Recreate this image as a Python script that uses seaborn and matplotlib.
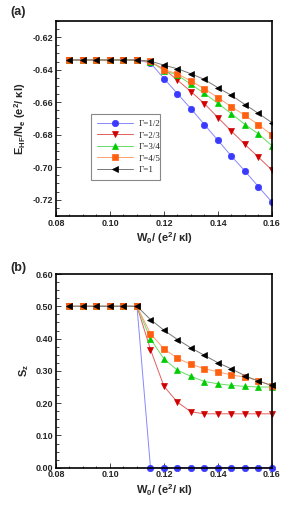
import numpy as np
import pandas as pd
import seaborn as sns
import matplotlib.pyplot as plt
from matplotlib.ticker import MultipleLocator, FormatStrFormatter

sns.set_style("ticks")
plt.rcParams['font.family'] = ['Liberation Sans', 'DejaVu Sans']
plt.rcParams['font.weight'] = 'bold'
plt.rcParams['mathtext.fontset'] = 'custom'
plt.rcParams['mathtext.rm'] = 'Liberation Sans:bold'
plt.rcParams['mathtext.it'] = 'Liberation Sans:bold'
plt.rcParams['mathtext.bf'] = 'Liberation Sans:bold'

# W0 values
w0 = [0.085, 0.09, 0.095, 0.10, 0.105, 0.11, 0.115, 0.12, 0.125, 0.13,
      0.135, 0.14, 0.145, 0.15, 0.155, 0.16]

labels = ['Γ=1/2', 'Γ=2/3', 'Γ=3/4', 'Γ=4/5', 'Γ=1']

# (a) E_HF / N_e
flat_e = [-0.634] * 6
e_half = flat_e + [-0.6359, -0.6454, -0.6548, -0.6640, -0.6738, -0.6835, -0.6932, -0.7024, -0.7120, -0.7215]
e_two3 = flat_e + [-0.6352, -0.6396, -0.6464, -0.6535, -0.6609, -0.6695, -0.6778, -0.6860, -0.6938, -0.7018]
e_three4 = flat_e + [-0.6350, -0.6405, -0.6433, -0.6490, -0.6546, -0.6607, -0.6671, -0.6737, -0.6795, -0.6868]
e_four5 = flat_e + [-0.6349, -0.6400, -0.6425, -0.6470, -0.6517, -0.6572, -0.6628, -0.6681, -0.6738, -0.6802]
e_one = flat_e + [-0.6347, -0.6372, -0.6394, -0.6425, -0.6460, -0.6511, -0.6558, -0.6614, -0.6669, -0.6726]

# (b) S_z
flat_s = [0.5] * 6
s_half = flat_s + [0.0] * 10
s_two3 = flat_s + [0.366, 0.252, 0.203, 0.173, 0.167, 0.167, 0.167, 0.167, 0.167, 0.167]
s_three4 = flat_s + [0.399, 0.337, 0.302, 0.283, 0.267, 0.260, 0.255, 0.252, 0.250, 0.250]
s_four5 = flat_s + [0.415, 0.368, 0.339, 0.320, 0.307, 0.297, 0.287, 0.281, 0.270, 0.253]
s_one = flat_s + [0.459, 0.426, 0.397, 0.371, 0.348, 0.325, 0.306, 0.285, 0.268, 0.255]

markers = ['o', 'v', '^', 's', '<']
msizes = [4.6, 4.0, 4.0, 3.8, 4.3]
mcolors = ['#3a3aff', '#d00000', '#00cc00', '#ff6010', '#000000']
lcolors = ['#8888ff', '#e06060', '#66dd66', '#ffa070', '#777777']

fig = plt.figure(figsize=(2.91, 5.08), dpi=100)
ax1 = fig.add_axes([0.1924, 0.5748, 0.7423, 0.3839])
ax2 = fig.add_axes([0.1924, 0.0793, 0.7423, 0.3813])


def draw(ax, series):
    for i, ys in enumerate(series):
        df = pd.DataFrame({'w0': w0, 'v': ys})
        sns.lineplot(data=df, x='w0', y='v', ax=ax, color=lcolors[i],
                     marker=markers[i], markersize=msizes[i],
                     markerfacecolor=mcolors[i], markeredgecolor=mcolors[i],
                     markeredgewidth=0.5, linewidth=0.7, label=labels[i])


def style(ax):
    ax.set_xlim(0.08, 0.16)
    ax.xaxis.set_major_locator(MultipleLocator(0.02))
    ax.xaxis.set_minor_locator(MultipleLocator(0.005))
    ax.xaxis.set_major_formatter(FormatStrFormatter('%.2f'))
    ax.tick_params(which='both', direction='in', top=False, right=False,
                   labelsize=6.5, width=0.6, pad=2)
    ax.tick_params(which='major', length=3.5)
    ax.tick_params(which='minor', length=1.8)
    for s in ax.spines.values():
        s.set_linewidth(1.2)
        s.set_color('black')
    for t in ax.get_xticklabels() + ax.get_yticklabels():
        t.set_fontweight('bold')
    ax.set_xlabel('W$_0$/ (e$^2$/ κl)', fontsize=8, fontweight='bold', labelpad=2)


draw(ax1, [e_half, e_two3, e_three4, e_four5, e_one])
ax1.set_ylim(-0.73, -0.61)
ax1.yaxis.set_major_locator(MultipleLocator(0.02))
ax1.yaxis.set_minor_locator(MultipleLocator(0.005))
ax1.yaxis.set_major_formatter(FormatStrFormatter('%.2f'))
style(ax1)
ax1.set_ylabel('E$_{HF}$/N$_e$ (e$^2$/ κl)', fontsize=8, fontweight='bold', labelpad=3)
leg = ax1.legend(loc='lower left', bbox_to_anchor=(0.1435, 0.164, 0.357, 0.313),
                 mode='expand', handlelength=4.0, handletextpad=0.6,
                 fancybox=False, framealpha=1, edgecolor='#888888',
                 prop={'family': 'Liberation Serif', 'size': 6.5, 'weight': 'normal'},
                 borderpad=0.6, labelspacing=0.35)
leg.get_frame().set_linewidth(0.8)

draw(ax2, [s_half, s_two3, s_three4, s_four5, s_one])
ax2.set_ylim(0.0, 0.6)
ax2.yaxis.set_major_locator(MultipleLocator(0.1))
ax2.yaxis.set_minor_locator(MultipleLocator(0.025))
ax2.yaxis.set_major_formatter(FormatStrFormatter('%.2f'))
style(ax2)
ax2.set_ylabel('S$_z$', fontsize=8, fontweight='bold', labelpad=3)
ax2.get_legend().remove()
for line in ax2.lines:
    line.set_clip_on(False)

fig.text(0.034, 0.976, '(a)', fontsize=9, fontweight='bold', va='center')
fig.text(0.034, 0.472, '(b)', fontsize=9, fontweight='bold', va='center')

fig.savefig('out.png', dpi=100)
